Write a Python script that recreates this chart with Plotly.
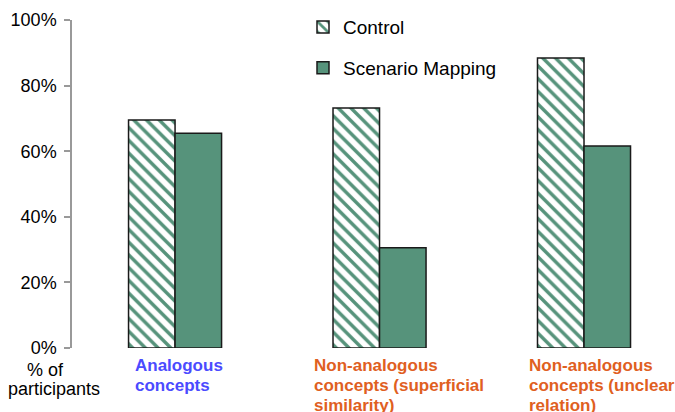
import plotly.graph_objects as go

# Share of participants per concept type and condition
categories = [
    ["Analogous", "concepts"],
    ["Non-analogous", "concepts (superficial", "similarity)"],
    ["Non-analogous", "concepts (unclear", "relation)"],
]
category_colors = ["#4b4bff", "#e0601f", "#e0601f"]
control = [0.695, 0.732, 0.884]
scenario_mapping = [0.655, 0.306, 0.616]
y_ticks = [0, 0.2, 0.4, 0.6, 0.8, 1.0]
y_tick_labels = ["0%", "20%", "40%", "60%", "80%", "100%"]

GREEN = "#56937b"
FONT = "Liberation Sans, Arial, Helvetica, sans-serif"
x_pos = list(range(len(categories)))

fig = go.Figure()
fig.add_trace(go.Bar(
    x=x_pos, y=control, name="Control", legendgroup="c",
    marker=dict(
        color="white",
        line=dict(color="#1a1a1a", width=1.5),
        pattern=dict(shape="\\", fgcolor=GREEN, bgcolor="white",
                     size=9, solidity=0.38, fillmode="replace"),
    ),
))
fig.add_trace(go.Bar(
    x=x_pos, y=scenario_mapping, name="Scenario Mapping", legendgroup="s",
    marker=dict(color=GREEN, line=dict(color="#1a1a1a", width=1.5)),
))

# Left-aligned category captions beneath each bar pair, one line per annotation
label_offsets = [-0.205, -0.328, -0.279]
LINE_STEP = 20
annotations = []
for i, (lines, col) in enumerate(zip(categories, category_colors)):
    for k, line in enumerate(lines):
        annotations.append(dict(
            x=x_pos[i] + label_offsets[i], y=0, xref="x", yref="paper",
            xanchor="left", yanchor="middle", align="left",
            yshift=-17 - k * LINE_STEP,
            text=f"<b>{line}</b>", showarrow=False,
            font=dict(family=FONT, size=17, color=col),
        ))

# Y-axis caption under the tick labels
PLOT_LEFT, PLOT_W = 72, 603
annotations.append(dict(
    x=(25 - PLOT_LEFT) / PLOT_W, y=0, xref="paper", yref="paper",
    xanchor="left", yanchor="middle", yshift=-22,
    text="% of", showarrow=False, font=dict(family=FONT, size=18, color="black"),
))
annotations.append(dict(
    x=(6 - PLOT_LEFT) / PLOT_W, y=0, xref="paper", yref="paper",
    xanchor="left", yanchor="middle", yshift=-41,
    text="participants", showarrow=False, font=dict(family=FONT, size=18, color="black"),
))

fig.update_layout(
    width=675, height=412,
    margin=dict(l=PLOT_LEFT, r=0, t=20, b=64),
    paper_bgcolor="white", plot_bgcolor="white",
    barmode="group", bargap=0.545, bargroupgap=0,
    font=dict(family=FONT, size=17, color="black"),
    showlegend=True,
    legend=dict(
        x=(303 - PLOT_LEFT) / PLOT_W, y=1.036, xanchor="left", yanchor="top",
        font=dict(family=FONT, size=19, color="black"),
        tracegroupgap=13, bgcolor="rgba(0,0,0,0)",
    ),
    xaxis=dict(
        range=[-0.504, 2.445], showticklabels=False, showline=False,
        showgrid=False, zeroline=False, ticks="",
    ),
    yaxis=dict(
        range=[0, 1], tickvals=y_ticks, ticktext=y_tick_labels,
        showline=True, linecolor="#999999", linewidth=1.5,
        ticks="outside", ticklen=6, tickcolor="#999999", tickwidth=1.5,
        ticklabelstandoff=4,
        showgrid=False, zeroline=False,
        tickfont=dict(family=FONT, size=18, color="black"),
    ),
    annotations=annotations,
)

fig.write_html("out.html")
